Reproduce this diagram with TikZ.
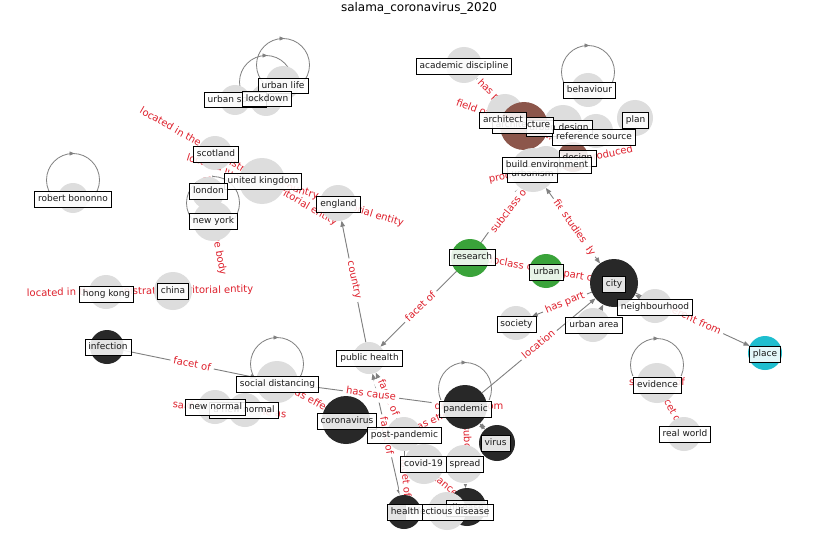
\documentclass[tikz,border=0pt]{standalone}
\usepackage{fontspec}
\setmainfont{DejaVu Sans}
\usetikzlibrary{arrows.meta,calc}
\pgfdeclarelayer{bglayer}
\pgfdeclarelayer{edgelayer}
\pgfdeclarelayer{labellayer}
\pgfsetlayers{bglayer,edgelayer,main,labellayer}
\definecolor{ngray}{RGB}{221,221,221}
\definecolor{ndark}{RGB}{40,40,40}
\definecolor{ngreen}{RGB}{58,163,58}
\definecolor{nbrown}{RGB}{140,86,75}
\definecolor{ncyan}{RGB}{30,190,207}
\definecolor{egray}{RGB}{128,128,128}
\definecolor{ered}{RGB}{222,32,44}
\definecolor{labeltext}{RGB}{25,25,25}
\newcommand\mkloop[1]{%
  \draw[loopline] ($(#1)+(0,-18)$) circle[radius=26.5pt];
  \draw[looptip] ($(#1)+(-3,-44.5)$) -- ($(#1)+(1.5,-44.5)$);}
\begin{document}
\begin{tikzpicture}[x=1pt,y=-1pt,
  gnode/.style={circle,inner sep=0pt,outer sep=0pt,draw=none},
  nlabel/.style={draw=black,line width=0.8pt,fill=white,fill opacity=0.88,text opacity=1,inner xsep=3.5pt,inner ysep=3.4pt,text height=6.8pt,text depth=2.2pt,font=\fontsize{9}{10}\selectfont,text=labeltext},
  elabel/.style={text=ered,fill=white,inner xsep=3pt,inner ysep=2pt,rounded corners=2pt,text height=7.4pt,text depth=2.3pt,font=\fontsize{10}{12}\selectfont},
  edgeline/.style={draw=egray,line width=0.9pt,-{Triangle[length=6pt,width=4.5pt]}},
  edgeboth/.style={draw=egray,line width=0.9pt,{Triangle[length=6pt,width=4.5pt]}-{Triangle[length=6pt,width=4.5pt]}},
  loopline/.style={draw=egray,line width=0.8pt},
  looptip/.style={draw=egray,line width=0.6pt,-{Triangle[length=5pt,width=4pt]}}
]
\useasboundingbox (0,0) rectangle (837,559);
\begin{pgfonlayer}{bglayer}
\fill[white] (0,0) rectangle (837,559);
\end{pgfonlayer}
\node[font=\fontsize{12}{14}\selectfont,inner sep=0pt] (title) at (419,8.5) {salama\_coronavirus\_2020};

% ---------- node circles ----------
\node[gnode,fill=ngray,minimum size=30pt] (robert) at (73,198) {};
\node[gnode,fill=ngray,minimum size=34pt] (urbanlife) at (283,83) {};
\node[gnode,fill=ngray,minimum size=30pt] (urbans) at (235,100) {};
\node[gnode,fill=ngray,minimum size=32pt] (lockdown) at (266,100) {};
\node[gnode,fill=ngray,minimum size=34pt] (scotland) at (215,153) {};
\node[gnode,fill=ngray,minimum size=46pt] (uk) at (262,181) {};
\node[gnode,fill=ngray,minimum size=32pt] (london) at (208,193) {};
\node[gnode,fill=ngray,minimum size=40pt] (newyork) at (213,221) {};
\node[gnode,fill=ngray,minimum size=36pt] (england) at (338,203) {};
\node[gnode,fill=ngray,minimum size=34pt] (hongkong) at (106,292) {};
\node[gnode,fill=ngray,minimum size=38pt] (china) at (173,291) {};
\node[gnode,fill=ndark,minimum size=34pt] (infection) at (107,347) {};
\node[gnode,fill=ngray,minimum size=42pt] (socdist) at (277,382) {};
\node[gnode,fill=ngray,minimum size=34pt] (newnormal) at (215,407) {};
\node[gnode,fill=ngray,minimum size=34pt] (newnormalb) at (245,410) {};
\node[gnode,fill=ndark,minimum size=48pt] (coronavirus) at (346,420) {};
\node[gnode,fill=ngray,minimum size=32pt] (publichealth) at (369,358) {};
\node[gnode,fill=ndark,minimum size=44pt] (pandemic) at (465,407) {};
\node[gnode,fill=ndark,minimum size=36pt] (virus) at (497,443) {};
\node[gnode,fill=ngray,minimum size=34pt] (postpandemic) at (404,434) {};
\node[gnode,fill=ngray,minimum size=40pt] (covid) at (424,464) {};
\node[gnode,fill=ngray,minimum size=38pt] (spread) at (464,464) {};
\node[gnode,fill=ndark,minimum size=38pt] (disease) at (467,507) {};
\node[gnode,fill=ngray,minimum size=38pt] (infdisease) at (447,511) {};
\node[gnode,fill=ndark,minimum size=34pt] (health) at (404,512) {};
\node[gnode,fill=ngreen,minimum size=38pt] (research) at (470,258) {};
\node[gnode,fill=ngreen,minimum size=34pt] (urban) at (546,271) {};
\node[gnode,fill=ndark,minimum size=48pt] (city) at (614,283) {};
\node[gnode,fill=ngray,minimum size=34pt] (neighbourhood) at (655,306) {};
\node[gnode,fill=ngray,minimum size=34pt] (society) at (516,323) {};
\node[gnode,fill=ngray,minimum size=34pt] (urbanarea) at (593,325) {};
\node[gnode,fill=ncyan,minimum size=34pt] (place) at (765,353) {};
\node[gnode,fill=ngray,minimum size=40pt] (evidence) at (657,383) {};
\node[gnode,fill=ngray,minimum size=34pt] (realworld) at (684,434) {};
\node[gnode,fill=ngray,minimum size=36pt] (academic) at (464,65) {};
\node[gnode,fill=ngray,minimum size=34pt] (behaviour) at (588,90) {};
\node[gnode,fill=ngray,minimum size=36pt] (plan) at (635,118) {};
\node[gnode,fill=ngray,minimum size=36pt] (architect) at (505,112) {};
\node[gnode,fill=ngray,minimum size=38pt] (urbandesign) at (563,124) {};
\node[gnode,fill=ngray,minimum size=34pt] (refsource) at (596,131) {};
\node[gnode,fill=nbrown,minimum size=48pt] (architecture) at (524,126) {};
\node[gnode,fill=nbrown,minimum size=30pt] (design) at (573,157) {};
\node[gnode,fill=ngray,minimum size=34pt] (buildenv) at (546,163) {};
\node[gnode,fill=ngray,minimum size=44pt] (urbanism) at (533,170) {};

% ---------- edges, loops and edge labels ----------
\begin{pgfonlayer}{edgelayer}
\draw[edgeline] (scotland) -- (uk);
\draw[edgeline] (england) -- (uk);
\draw[edgeline] (uk) -- (england);
\draw[edgeline] (hongkong) -- (china);
\draw[edgeline] (infection) -- (socdist);
\draw[edgeline] (socdist) -- (pandemic);
\draw[edgeline] (socdist) -- (coronavirus);
\draw[edgeline] (newnormalb) -- (newnormal);
\draw[edgeline] (postpandemic) -- (publichealth);
\draw[edgeboth] (publichealth) -- (health);
\draw[edgeline] (postpandemic) -- (health);
\draw[edgeline] (postpandemic) -- (pandemic);
\draw[edgeline] (spread) -- (pandemic);
\draw[edgeline] (covid) -- (disease);
\draw[edgeline] (spread) -- (disease);
\draw[edgeboth] (pandemic) -- (virus);
\draw[edgeline] (pandemic) -- (city);
\draw[edgeline] (research) -- (publichealth);
\draw[edgeline] (research) -- (urbanism);
\draw[edgeline] (research) -- (urban);
\draw[edgeline] (urban) -- (city);
\draw[edgeboth] (urbanism) -- (city);
\draw[edgeline] (city) -- (society);
\draw[edgeline] (city) -- (place);
\draw[edgeline] (urbanarea) -- (city);
\draw[edgeline] (neighbourhood) -- (city);
\draw[edgeline] (evidence) -- (realworld);
\draw[edgeline] (publichealth) -- (england);
\draw[edgeline] (architect) -- (academic);
\draw[edgeline] (architecture) -- (academic);
\mkloop{robert}
\mkloop{urbanlife}
\mkloop{lockdown}
\mkloop{newyork}
\mkloop{socdist}
\mkloop{pandemic}
\mkloop{behaviour}
\mkloop{evidence}
% edge labels
\node[elabel,rotate=-17] (el2) at (295,191) {located in the administrative territorial entity};
\node[elabel,rotate=-17] (el3) at (300,191) {country};
\node[elabel,rotate=-30] (el1) at (238.5,167) {located in the administrative territorial entity};
\node[elabel,rotate=1] (el4) at (140,292) {located in the administrative territorial entity};
\node[elabel,rotate=-80] (el5) at (214,226) {has legislative body};
\node[elabel,rotate=-12] (el6) at (192,365) {facet of};
\node[elabel,rotate=-66] (el10) at (388,398) {facet of};
\node[elabel,rotate=-80] (el11) at (386,436) {facet of};
\node[elabel,rotate=-8] (el7) at (371,394.5) {has cause};
\node[elabel,rotate=-29] (el8) at (311.5,401) {has effect};
\node[elabel,rotate=-5] (el9) at (229.5,410) {said to be the same as};
\node[elabel,rotate=-85] (el12) at (405,478) {facet of};
\node[elabel,rotate=24] (el13) at (434.5,420.5) {has effect};
\node[elabel] (el14) at (469,407) {different from};
\node[elabel,rotate=-88] (el15) at (467,453) {subclass of};
\node[elabel,rotate=-40] (el16) at (445,486) {instance of};
\node[elabel,rotate=40] (el17) at (539,345) {location};
\node[elabel,rotate=44] (el18) at (421,307) {facet of};
\node[elabel,rotate=52] (el19) at (510,210) {subclass of};
\node[elabel,rotate=-11] (el20) at (509,264) {subclass of};
\node[elabel,rotate=-10] (el21) at (580,277) {part of};
\node[elabel,rotate=-55] (el22) at (574,228) {field of study};
\node[elabel,rotate=-55,inner xsep=6pt] (el23) at (574,228) {studies};
\node[elabel,rotate=22] (el24) at (565,303) {has part};
\node[elabel,rotate=-25] (el25) at (689,318) {different from};
\node[elabel] (el26) at (657,383) {subclass of};
\node[elabel,rotate=-62] (el27) at (670.5,408.5) {facet of};
\node[elabel,rotate=-45] (el28) at (493.5,96) {has part};
\node[elabel,rotate=-20] (el29) at (510,122.5) {field of this occupation};
\node[elabel,rotate=12] (el30) at (561,165) {product or material produced};
\node[elabel,rotate=-78] (el31) at (354,280) {country};
\end{pgfonlayer}

% ---------- node labels ----------
\begin{pgfonlayer}{labellayer}
\node[nlabel] (robert-l) at (73,199) {robert bononno};
\node[nlabel] (urbanlife-l) at (283,86) {urban life};
\node[nlabel] (urbans-l) at (235.5,100) {urban space};
\node[nlabel] (lockdown-l) at (267,99) {lockdown};
\node[nlabel] (scotland-l) at (216,154.5) {scotland};
\node[nlabel] (uk-l) at (263,181) {united kingdom};
\node[nlabel] (london-l) at (208.5,191.5) {london};
\node[nlabel] (newyork-l) at (213.5,221) {new york};
\node[nlabel] (england-l) at (338.5,204) {england};
\node[nlabel] (hongkong-l) at (106.5,294) {hong kong};
\node[nlabel] (china-l) at (173,291.5) {china};
\node[nlabel] (infection-l) at (108,347.5) {infection};
\node[nlabel] (socdist-l) at (277.5,384.5) {social distancing};
\node[nlabel] (newnormalb-l) at (244,410) {a new normal};
\node[nlabel] (newnormal-l) at (215.5,407.5) {new normal};
\node[nlabel] (coronavirus-l) at (347,421.5) {coronavirus};
\node[nlabel] (publichealth-l) at (369.5,358.5) {public health};
\node[nlabel] (postpandemic-l) at (404.5,435.5) {post-pandemic};
\node[nlabel] (pandemic-l) at (465.5,409) {pandemic};
\node[nlabel] (virus-l) at (495.5,443.5) {virus};
\node[nlabel] (covid-l) at (423.5,464) {covid-19};
\node[nlabel] (spread-l) at (465,464) {spread};
\node[nlabel] (disease-l) at (466.5,508.5) {disease};
\node[nlabel] (infdisease-l) at (449,512.5) {infectious disease};
\node[nlabel] (health-l) at (405,512.5) {health};
\node[nlabel] (research-l) at (472.5,257.5) {research};
\node[nlabel] (urban-l) at (546.5,272) {urban};
\node[nlabel] (city-l) at (614,284) {city};
\node[nlabel] (neighbourhood-l) at (655,307.5) {neighbourhood};
\node[nlabel] (society-l) at (516.5,324) {society};
\node[nlabel] (urbanarea-l) at (594,325.5) {urban area};
\node[nlabel] (place-l) at (765,354.5) {place};
\node[nlabel] (evidence-l) at (657.5,385) {evidence};
\node[nlabel] (realworld-l) at (685,434.5) {real world};
\node[nlabel] (academic-l) at (464,66.5) {academic discipline};
\node[nlabel] (behaviour-l) at (589.5,90.5) {behaviour};
\node[nlabel] (plan-l) at (635.5,120) {plan};
\node[nlabel] (urbandesign-l) at (559,128) {urban design};
\node[nlabel] (refsource-l) at (594,137.5) {reference source};
\node[nlabel] (architecture-l) at (523,125.5) {architecture};
\node[nlabel] (architect-l) at (503,120) {architect};
\node[nlabel] (design-l) at (577.5,158.5) {design};
\node[nlabel] (urbanism-l) at (532.5,174.5) {urbanism};
\node[nlabel] (buildenv-l) at (547,165) {build environment};
\end{pgfonlayer}
\end{tikzpicture}
\end{document}
